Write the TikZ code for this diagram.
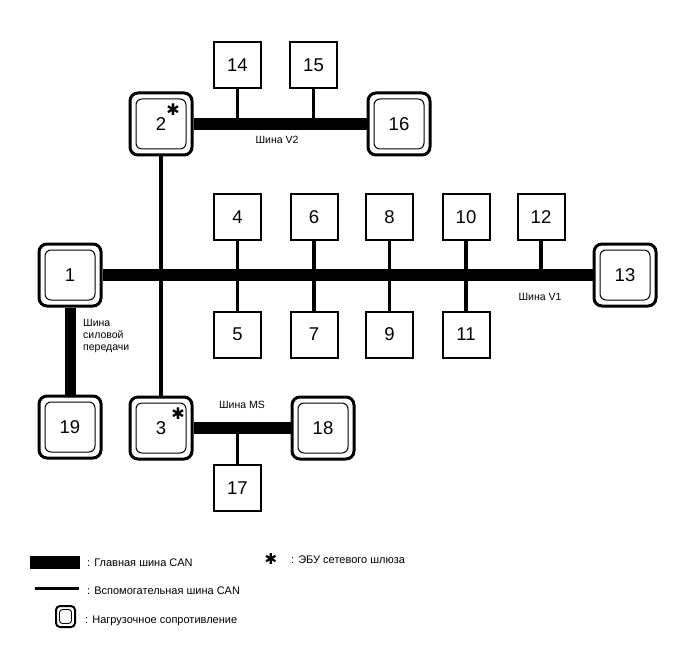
\documentclass[tikz,border=0pt]{standalone}
\usepackage{fontspec}
\setmainfont{Liberation Sans}
\newfontfamily\djv{DejaVu Sans}
\begin{document}
\begin{tikzpicture}[x=1pt,y=-1pt,
  resist/.style={draw, line width=3pt, rounded corners=8pt, minimum width=62pt, minimum height=62pt, inner sep=0pt,
    font=\fontsize{18.5}{20}\selectfont,
    path picture={\draw[line width=1pt, rounded corners=6pt]
      ([shift={(-25pt,-25pt)}]path picture bounding box.center) rectangle
      ([shift={(25pt,25pt)}]path picture bounding box.center);}},
  ecu/.style={draw, line width=2pt, minimum width=47pt, minimum height=46pt, inner sep=0pt,
    font=\fontsize{18.5}{20}\selectfont},
  mainbus/.style={line width=12pt},
  ptbus/.style={line width=11pt},
  subbus/.style={line width=3.5pt},
  lbl/.style={font=\fontsize{10.5}{12}\selectfont, inner sep=0pt},
  leg/.style={font=\fontsize{11}{12}\selectfont, inner sep=0pt},
  star/.style={font=\djv\fontsize{16}{16}\selectfont, inner sep=0pt},
  legstar/.style={font=\djv\fontsize{15}{15}\selectfont, inner sep=0pt}]
\useasboundingbox (0,0) rectangle (688,658);

% terminated nodes
\node[resist] (n1)  at (70,275)  {1};
\node[resist] (n2)  at (161,124) {2};
\node[resist] (n3)  at (161,428) {3};
\node[resist] (n13) at (625,275) {13};
\node[resist] (n16) at (399,124) {16};
\node[resist] (n18) at (323,428) {18};
\node[resist] (n19) at (70,427)  {19};

% plain ECUs
\node[ecu] (n14) at (237.5,65) {14};
\node[ecu] (n15) at (313.5,65) {15};
\node[ecu] (n4)  at (237.5,217) {4};
\node[ecu] (n6)  at (314,217) {6};
\node[ecu] (n8)  at (389.5,217) {8};
\node[ecu] (n10) at (466,217) {10};
\node[ecu] (n12) at (541,217) {12};
\node[ecu] (n5)  at (237.5,334.5) {5};
\node[ecu] (n7)  at (314,334.5) {7};
\node[ecu] (n9)  at (389.5,334.5) {9};
\node[ecu] (n11) at (466,334.5) {11};
\node[ecu] (n17) at (237.5,488) {17};

% gateway asterisks
\node[star] (s2) at (173,110) {✱};
\node[star] (s3) at (178,414) {✱};

% sub buses
\draw[subbus] (n2.south) -- (n3.north);
\draw[subbus] (n4.south) -- (n5.north);
\draw[subbus] (n6.south) -- (n7.north);
\draw[subbus] (n8.south) -- (n9.north);
\draw[subbus] (n10.south) -- (n11.north);
\draw[subbus] (n12.south) -- (n12.south |- n13.west);
\draw[subbus] (n14.south) -- (n14.south |- n2.east);
\draw[subbus] (n15.south) -- (n15.south |- n2.east);
\draw[subbus] (n17.north) -- (n17.north |- n3.east);

% main buses
\draw[mainbus] (n1.east) -- (n13.west);
\draw[mainbus] (n2.east) -- (n16.west);
\draw[mainbus] (n3.east) -- (n18.west);
\draw[ptbus] (n1.south) -- (n19.north);

% bus labels
\node[lbl] (lv2) at (277,140) {Шина V2};
\node[lbl] (lv1) at (540,297) {Шина V1};
\node[lbl] (lms) at (242,405) {Шина MS};
\node[lbl, anchor=north west, align=left] (lpt) at (83,319) {Шина\\силовой\\передачи};

% legend
\fill (30,556) rectangle (80,569);
\draw[subbus] (35,588.5) -- (79,588.5);
\draw[line width=2pt, rounded corners=4pt] (56,606) rectangle (75,627);
\draw[line width=0.9pt, rounded corners=3pt] (59.5,609.5) rectangle (71.5,623.5);
\node[leg, anchor=west] (lg1) at (87,562.5) {: Главная шина CAN};
\node[leg, anchor=west] (lg2) at (87,591) {: Вспомогательная шина CAN};
\node[leg, anchor=west] (lg3) at (85,621) {: Нагрузочное сопротивление};
\node[legstar] (lg4s) at (271,559) {✱};
\node[leg, anchor=west] (lg4) at (291,560) {: ЭБУ сетевого шлюза};
\end{tikzpicture}
\end{document}
